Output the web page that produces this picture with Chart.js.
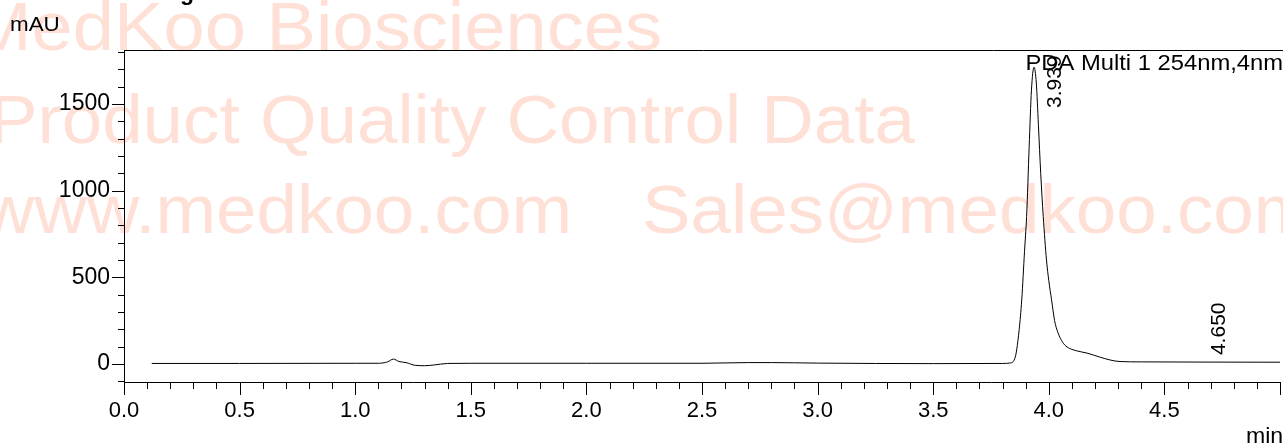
<!DOCTYPE html>
<html>
<head>
<meta charset="utf-8">
<script src="https://cdn.jsdelivr.net/npm/chart.js@4"></script>
<style>
  body { margin: 0; background: #fff; }
  canvas { display: block; }
</style>
</head>
<body>
<canvas id="myChart" width="1283" height="443"></canvas>
<script>
// retention time (min) and absorbance (mAU)
const times = [0.12, 0.5, 1.0, 1.10, 1.14, 1.165, 1.19, 1.22, 1.26, 1.30, 1.34, 1.40, 1.5, 2.0, 2.5, 2.7, 2.8, 3.0, 3.5,
  3.80, 3.835, 3.845, 3.855, 3.861, 3.872, 3.883, 3.895, 3.904, 3.915, 3.925, 3.936, 3.946, 3.955, 3.965, 3.976,
  3.99, 4.00, 4.012, 4.025, 4.04, 4.06, 4.079, 4.12, 4.165, 4.22, 4.265, 4.308, 4.4, 4.65, 5.02];
const mau = [3, 3, 4, 4, 12, 28, 14, 8, -8, -10, -6, 3, 4, 4, 4, 8, 8, 5, 2,
  3, 6, 12, 40, 81, 200, 370, 650, 850, 1250, 1580, 1712, 1620, 1380, 1100, 850,
  600, 480, 370, 250, 179, 125, 98, 76, 63, 40, 23, 14, 12, 11, 10];

const peakTimes = [3.939, 4.650];
const peakLabels = ['3.939', '4.650'];

const xTicks = [0.0, 0.5, 1.0, 1.5, 2.0, 2.5, 3.0, 3.5, 4.0, 4.5, 5.0];
const yTicks = [0, 500, 1000, 1500];

const FONT = '"Liberation Sans", Arial, sans-serif';

const ctx = document.getElementById('myChart');

// text slightly stretched sideways, like the source printout
function stretchText(c, text, x, y, font, align, sx) {
  c.save();
  c.font = font;
  c.textAlign = align;
  c.textBaseline = 'alphabetic';
  c.translate(x, y);
  c.scale(sx, 1);
  c.fillText(text, 0, 0);
  c.restore();
}

// watermark behind the trace
const watermark = {
  id: 'watermark',
  beforeDraw(chart) {
    const c = chart.ctx;
    c.save();
    c.fillStyle = 'rgb(255,224,214)';
    const f = '68px ' + FONT;
    stretchText(c, 'MedKoo Biosciences', 662, 50, f, 'right', 1.09);
    stretchText(c, 'Product Quality Control Data', 915, 143, f, 'right', 1.07);
    stretchText(c, 'www.medkoo.com', 572, 233, f, 'right', 1.07);
    stretchText(c, 'Sales@medkoo.com', 642, 233, f, 'left', 1.07);
    c.restore();
  }
};

// frame, tick marks and annotations
const decor = {
  id: 'decor',
  afterDraw(chart) {
    const c = chart.ctx;
    const a = chart.chartArea;
    const xs = chart.scales.x, ys = chart.scales.y;
    c.save();
    c.strokeStyle = '#000';
    c.lineWidth = 1;
    c.beginPath();
    c.moveTo(a.left + 0.5, a.top + 0.5);
    c.lineTo(chart.width, a.top + 0.5);
    c.stroke();

    c.beginPath();
    for (let i = 0; i <= 50; i++) {
      const px = Math.round(xs.getPixelForValue(i / 10)) + 0.5;
      const len = i % 5 === 0 ? 13 : 7;
      c.moveTo(px, a.bottom);
      c.lineTo(px, a.bottom + len);
    }
    for (let v = -100; v <= 1800; v += 100) {
      const py = Math.round(ys.getPixelForValue(v)) + 0.5;
      const len = v % 500 === 0 ? 12 : 6;
      c.moveTo(a.left, py);
      c.lineTo(a.left - len, py);
    }
    c.stroke();

    c.fillStyle = '#000';
    stretchText(c, 'mAU', 10, 31, '20px ' + FONT, 'left', 1.12);
    stretchText(c, 'min', 1246, 443, '22px ' + FONT, 'left', 1.05);
    stretchText(c, 'PDA Multi 1 254nm,4nm', 1283, 70, '22px ' + FONT, 'right', 1.08);
    stretchText(c, 'g', 180, 0, 'bold 22px ' + FONT, 'left', 1.05);

    c.font = '21px ' + FONT;
    peakTimes.forEach((t, i) => {
      let k = 0;
      times.forEach((tt, j) => { if (Math.abs(tt - t) < Math.abs(times[k] - t)) k = j; });
      const px = xs.getPixelForValue(t) + 26;
      const py = Math.max(ys.getPixelForValue(mau[k]) - 7, a.top + 58);
      c.save();
      c.translate(px, py);
      c.rotate(-Math.PI / 2);
      c.textAlign = 'left';
      c.fillText(peakLabels[i], 0, 0);
      c.restore();
    });
    c.restore();
  }
};

new Chart(ctx, {
  type: 'line',
  data: {
    datasets: [{
      data: times.map((t, i) => ({ x: t, y: mau[i] })),
      borderColor: '#000',
      borderWidth: 1,
      pointRadius: 0,
      fill: false,
      cubicInterpolationMode: 'monotone'
    }]
  },
  options: {
    responsive: false,
    animation: false,
    devicePixelRatio: 1,
    layout: { padding: { top: 50, right: 3, left: 0, bottom: 0 } },
    plugins: { legend: { display: false }, tooltip: { enabled: false } },
    scales: {
      x: {
        type: 'linear',
        min: 0,
        max: 5,
        afterBuildTicks: s => { s.ticks = xTicks.map(v => ({ value: v })); },
        afterFit: s => { s.height = 61; s.paddingLeft = 0; s.paddingRight = 0; },
        ticks: {
          color: '#000',
          font: { family: FONT, size: 22 },
          padding: 16,
          maxRotation: 0,
          autoSkip: false,
          callback: v => v < 4.9 ? v.toFixed(1) : ''
        },
        grid: { display: false, drawTicks: false },
        border: { display: true, color: '#000', width: 1 }
      },
      y: {
        min: -104,
        max: 1811,
        afterBuildTicks: s => { s.ticks = yTicks.map(v => ({ value: v })); },
        afterFit: s => { s.width = 124; s.paddingTop = 0; s.paddingBottom = 0; },
        ticks: {
          color: '#000',
          font: { family: FONT, size: 23 },
          padding: 14,
          autoSkip: false,
          callback: v => String(v)
        },
        grid: { display: false, drawTicks: false },
        border: { display: true, color: '#000', width: 1 }
      }
    }
  },
  plugins: [watermark, decor]
});
</script>
</body>
</html>
